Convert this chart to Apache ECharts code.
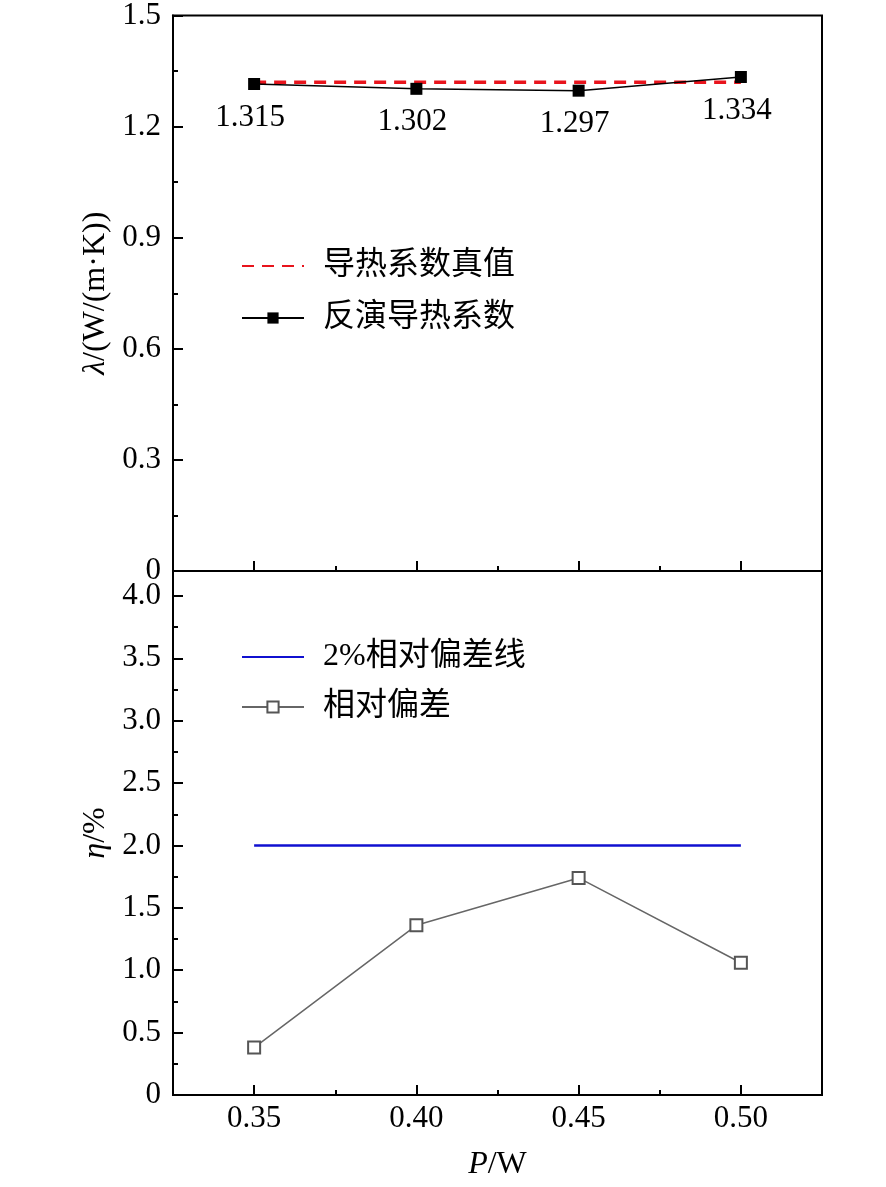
<!DOCTYPE html>
<html>
<head>
<meta charset="utf-8">
<script src="https://cdn.jsdelivr.net/npm/echarts@6/dist/echarts.min.js"></script>
<style>
  html, body { margin: 0; padding: 0; background: #fff; }
  #chart { width: 886px; height: 1187px; }
</style>
</head>
<body>
<div id="chart"></div>
<script>
// power levels (W)
const powers = [0.35, 0.40, 0.45, 0.50];
// inverted thermal conductivity, W/(m·K)
const lambdaInv = [1.315, 1.302, 1.297, 1.334];
// true thermal conductivity
const lambdaTrue = 1.32;
// relative deviation, %
const deviation = [0.38, 1.36, 1.74, 1.06];
// 2% reference line
const deviationLimit = 2.0;

const xMajorTicks = [0.35, 0.40, 0.45, 0.50];
const xMinorTicks = [0.375, 0.425, 0.475];
const etaMajorTicks = [0, 0.5, 1.0, 1.5, 2.0, 2.5, 3.0, 3.5, 4.0];
const etaMinorTicks = [0.25, 0.75, 1.25, 1.75, 2.25, 2.75, 3.25, 3.75];

const LATIN = "'Liberation Serif', 'DejaVu Serif', serif";
const MIXED = "'Liberation Serif', 'Noto Sans CJK SC', serif";
const AXIS_COLOR = "#000";
const TICK_FONT = 31;
const NAME_FONT = 32;

function numLabel(digits) {
  return (v) => (v === 0 ? "0" : Number(v).toFixed(digits));
}

function axisName(text) {
  return {
    name: text,
    nameLocation: "middle",
    nameTextStyle: {
      color: "#000",
      fontFamily: LATIN,
      fontSize: NAME_FONT,
      rich: { i: { fontStyle: "italic", fontFamily: LATIN, fontSize: NAME_FONT } },
    },
  };
}

function mainXAxis(gridIndex, showLabels) {
  const axis = {
    type: "value",
    gridIndex,
    position: "bottom",
    min: 0.325,
    max: 0.525,
    axisLine: { show: true, onZero: false, lineStyle: { color: AXIS_COLOR, width: 2 } },
    axisTick: {
      show: true,
      inside: true,
      length: 10,
      customValues: xMajorTicks,
      lineStyle: { color: AXIS_COLOR, width: 2 },
    },
    axisLabel: {
      show: showLabels,
      customValues: xMajorTicks,
      formatter: numLabel(2),
      margin: 8,
      color: "#000",
      fontFamily: LATIN,
      fontSize: TICK_FONT,
    },
    splitLine: { show: false },
  };
  if (showLabels) {
    Object.assign(axis, axisName("{i|P}/W"), { nameGap: 54 });
  }
  return axis;
}

function minorXAxis(gridIndex) {
  return {
    type: "value",
    gridIndex,
    position: "bottom",
    min: 0.325,
    max: 0.525,
    axisLine: { show: false, onZero: false },
    axisTick: {
      show: true,
      inside: true,
      length: 5,
      customValues: xMinorTicks,
      lineStyle: { color: AXIS_COLOR, width: 2 },
    },
    axisLabel: { show: false },
    splitLine: { show: false },
  };
}

const chart = echarts.init(document.getElementById("chart"));

chart.setOption({
  backgroundColor: "#fff",
  animation: false,
  grid: [
    { left: 173, top: 15, width: 649, height: 556, show: true, borderColor: "#000", borderWidth: 2, backgroundColor: "transparent" },
    { left: 173, top: 571, width: 649, height: 524, show: true, borderColor: "#000", borderWidth: 2, backgroundColor: "transparent" },
  ],
  legend: [
    {
      orient: "vertical",
      left: 241,
      top: 250,
      padding: 0,
      itemWidth: 62,
      itemHeight: 14,
      itemGap: 20,
      textStyle: { color: "#000", fontFamily: MIXED, fontSize: 32, padding: [0, 0, 0, 14] },
      data: [
        { name: "导热系数真值", itemStyle: { opacity: 0 } },
        { name: "反演导热系数" },
      ],
    },
    {
      orient: "vertical",
      left: 241,
      top: 641,
      padding: 0,
      itemWidth: 62,
      itemHeight: 14,
      itemGap: 18,
      textStyle: { color: "#000", fontFamily: MIXED, fontSize: 32, padding: [0, 0, 0, 14] },
      data: [
        { name: "2%相对偏差线", itemStyle: { opacity: 0 } },
        { name: "相对偏差" },
      ],
    },
  ],
  xAxis: [mainXAxis(0, false), minorXAxis(0), mainXAxis(1, true), minorXAxis(1)],
  yAxis: [
    Object.assign(
      {
        type: "value",
        gridIndex: 0,
        position: "left",
        min: 0,
        max: 1.5,
        interval: 0.3,
        axisLine: { show: true, onZero: false, lineStyle: { color: AXIS_COLOR, width: 2 } },
        axisTick: { show: true, inside: true, length: 10, lineStyle: { color: AXIS_COLOR, width: 2 } },
        minorTick: { show: true, splitNumber: 2, length: 5, lineStyle: { color: AXIS_COLOR, width: 2 } },
        axisLabel: { formatter: numLabel(1), margin: 12, color: "#000", fontFamily: LATIN, fontSize: TICK_FONT },
        splitLine: { show: false },
      },
      axisName("{i|λ}/(W/(m·K))"),
      { nameGap: 58 }
    ),
    Object.assign(
      {
        type: "value",
        gridIndex: 1,
        position: "left",
        min: 0,
        max: 4.2,
        axisLine: { show: true, onZero: false, lineStyle: { color: AXIS_COLOR, width: 2 } },
        axisTick: {
          show: true,
          inside: true,
          length: 10,
          customValues: etaMajorTicks,
          lineStyle: { color: AXIS_COLOR, width: 2 },
        },
        axisLabel: {
          customValues: etaMajorTicks,
          formatter: numLabel(1),
          margin: 12,
          color: "#000",
          fontFamily: LATIN,
          fontSize: TICK_FONT,
        },
        splitLine: { show: false },
      },
      axisName("{i|η}/%"),
      { nameGap: 60 }
    ),
    {
      type: "value",
      gridIndex: 1,
      position: "left",
      min: 0,
      max: 4.2,
      axisLine: { show: false, onZero: false },
      axisTick: {
        show: true,
        inside: true,
        length: 5,
        customValues: etaMinorTicks,
        lineStyle: { color: AXIS_COLOR, width: 2 },
      },
      axisLabel: { show: false },
      splitLine: { show: false },
    },
  ],
  series: [
    {
      name: "导热系数真值",
      type: "line",
      xAxisIndex: 0,
      yAxisIndex: 0,
      data: [
        [powers[0], lambdaTrue],
        [powers[powers.length - 1], lambdaTrue],
      ],
      symbol: "none",
      color: "#e8141c",
      lineStyle: { color: "#e8141c", width: 3.5, type: [12, 8] },
      z: 3,
    },
    {
      name: "反演导热系数",
      type: "line",
      xAxisIndex: 0,
      yAxisIndex: 0,
      data: powers.map((p, i) => [p, lambdaInv[i]]),
      symbol: "rect",
      symbolSize: 12,
      color: "#000",
      itemStyle: { color: "#000" },
      lineStyle: { color: "#000", width: 1.5 },
      label: {
        show: true,
        position: "bottom",
        distance: 12,
        offset: [-4, 0],
        formatter: (p) => lambdaInv[p.dataIndex].toFixed(3),
        color: "#000",
        fontFamily: LATIN,
        fontSize: TICK_FONT,
      },
      z: 4,
    },
    {
      name: "2%相对偏差线",
      type: "line",
      xAxisIndex: 2,
      yAxisIndex: 1,
      data: [
        [powers[0], deviationLimit],
        [powers[powers.length - 1], deviationLimit],
      ],
      symbol: "none",
      color: "#1010d0",
      lineStyle: { color: "#1010d0", width: 2.5 },
    },
    {
      name: "相对偏差",
      type: "line",
      xAxisIndex: 2,
      yAxisIndex: 1,
      data: powers.map((p, i) => [p, deviation[i]]),
      symbol: "emptyRect",
      symbolSize: 12,
      color: "#555",
      itemStyle: { color: "#555", borderColor: "#555", borderWidth: 2 },
      lineStyle: { color: "#666", width: 1.5 },
    },
  ],
});
</script>
</body>
</html>
